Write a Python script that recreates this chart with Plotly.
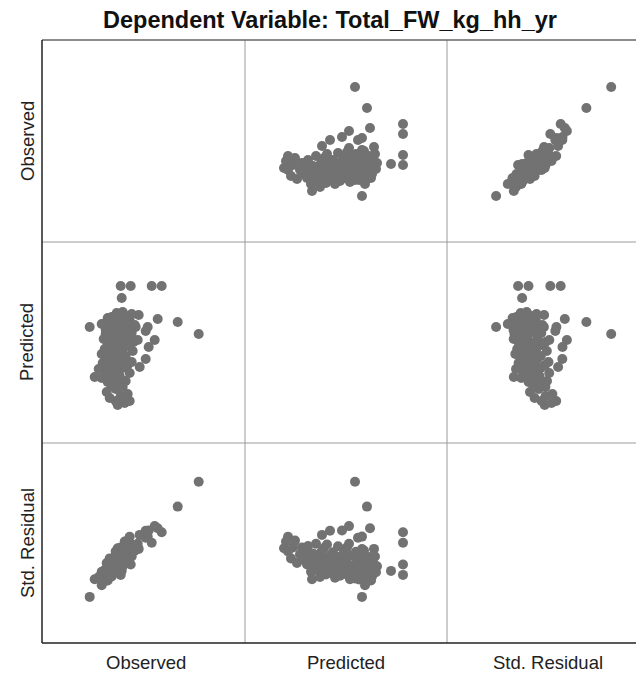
import plotly.graph_objects as go

# Values (arbitrary units, no tick labels in the original)
observed = [155, 134, 118, 108, 114, 111, 105, 104, 102, 102, 96, 86, 94, 95, 92, 87, 77, 78, 46, 62, 64, 74, 74,
            81, 72, 66, 77, 84, 63, 72, 79, 68, 75,
            64, 82, 70, 58, 51, 76, 66, 86, 61, 72, 55, 79, 68, 63, 84,
            74, 59, 88, 67, 78, 62, 71, 82, 58, 76, 66, 89, 73, 61, 80, 69, 85,
            64, 77, 90, 70, 60, 83, 74, 66, 88, 79, 70, 62,
            84, 75, 67, 91, 80, 71, 63, 86, 77, 68, 82, 88, 73, 79, 58]

predicted = [110, 122, 158, 158, 125, 104, 97, 117, 113, 85, 77, 43, 104, 129, 117, 158, 158, 146, 117, 110, 126, 129, 39,
             41, 43, 46, 48, 50, 52, 55, 57, 58, 60,
             62, 63, 65, 66, 67, 68, 70, 71, 72, 73, 75, 76, 77, 78, 79,
             80, 81, 82, 83, 85, 86, 87, 88, 90, 90, 92, 93, 94, 95, 96, 98, 99,
             100, 101, 102, 104, 105, 106, 108, 109, 111, 112, 113, 114,
             116, 117, 118, 119, 120, 121, 122, 124, 125, 127, 128, 130, 131, 132, 120]

std_residual = [164.2, 139.4, 113.7, 103.3, 117.8, 119.9, 115.5, 109.4, 108.3, 115.3, 111.1, 109.2, 102.3, 97.1, 96.9,
                81.5, 71.1, 75.1, 49.1, 67.5, 65.6, 75.2, 97.7,
                104.5, 94.6, 87.6, 98.6, 105.4, 83.0, 91.6, 98.4, 86.7, 93.5,
                81.6, 100.0, 87.1, 74.3, 66.8, 92.5, 81.6, 102.2, 75.9, 87.1, 69.0, 93.7, 82.0, 76.5, 98.1,
                87.5, 71.6, 101.5, 79.4, 90.4, 73.5, 82.6, 93.8, 68.3, 87.0, 76.1, 99.8, 82.9, 70.2, 89.7, 77.8, 94.2,
                72.1, 85.3, 98.6, 77.3, 66.7, 90.3, 80.5, 71.9, 94.3, 84.7, 75.1, 66.5,
                88.9, 79.3, 70.7, 95.4, 83.7, 74.1, 65.5, 88.9, 79.3, 69.5, 83.8, 89.5, 73.7, 79.7, 60.8]

variables = ["Observed", "Predicted", "Std. Residual"]
title_text = "Dependent Variable: Total_FW_kg_hh_yr"

data = [observed, predicted, std_residual]

# The page body has an 8 px margin; the figure is placed so the grid lands on the reference's pixels.
OFF = 8
W, H = 644 - 2 * OFF, 677 - OFF
LEFT, RIGHT, TOP, BOTTOM = 42, 644 - OFF, 40, 643  # page pixel positions of the grid
ML, MT = LEFT - OFF, TOP - OFF
MR = (W + OFF) - RIGHT
MB = (H + OFF) - BOTTOM
PW, PH = W - ML - MR, H - MT - MB

col_px = [(42, 245), (245, 447), (447, RIGHT)]
row_px = [(40, 242), (242, 443), (443, 643)]
x_ranges = [[-1.7, 201.3], [0, 202], [0, RIGHT - 447]]
y_ranges = [[0, 202], [1, 202], [3, 203]]


def px_x(x):
    return (x - LEFT) / PW


def px_y(y):
    return (BOTTOM - y) / PH


fig = go.Figure()
layout_axes = {}
for i in range(3):
    for j in range(3):
        k = i * 3 + j + 1
        sfx = "" if k == 1 else str(k)
        layout_axes["xaxis" + sfx] = dict(
            domain=[px_x(col_px[j][0]), px_x(col_px[j][1])], range=x_ranges[j],
            anchor="y" + sfx, visible=False, fixedrange=True)
        layout_axes["yaxis" + sfx] = dict(
            domain=[px_y(row_px[i][1]), px_y(row_px[i][0])], range=y_ranges[i],
            anchor="x" + sfx, visible=False, fixedrange=True)
        if i != j:
            fig.add_trace(go.Scatter(
                x=data[j], y=data[i], mode="markers",
                xaxis="x" + sfx, yaxis="y" + sfx, cliponaxis=False,
                marker=dict(size=10, color="rgb(114,114,114)", line=dict(width=0)),
                showlegend=False, hoverinfo="skip"))

shapes = []
inner = dict(color="#9a9a9a", width=1)
for xp in (245, 447):
    shapes.append(dict(type="line", xref="paper", yref="paper",
                       x0=px_x(xp), x1=px_x(xp), y0=px_y(643), y1=px_y(40), line=inner))
for yp in (242, 443):
    shapes.append(dict(type="line", xref="paper", yref="paper",
                       x0=px_x(42), x1=px_x(RIGHT), y0=px_y(yp), y1=px_y(yp), line=inner))
shapes.append(dict(type="line", xref="paper", yref="paper",
                   x0=px_x(42), x1=px_x(RIGHT), y0=px_y(40), y1=px_y(40),
                   line=dict(color="#666666", width=1.5)))
shapes.append(dict(type="line", xref="paper", yref="paper",
                   x0=px_x(42), x1=px_x(42), y0=px_y(643), y1=px_y(40),
                   line=dict(color="#222222", width=1.5)))
shapes.append(dict(type="line", xref="paper", yref="paper",
                   x0=px_x(42), x1=px_x(RIGHT), y0=px_y(643), y1=px_y(643),
                   line=dict(color="#222222", width=1.5)))

font_lab = dict(family="Liberation Sans, Arial, sans-serif", size=18.5, color="#222222")
annotations = [dict(text="<b>" + title_text + "</b>", xref="paper", yref="paper",
                    x=px_x(330), y=px_y(20), xanchor="center", yanchor="middle",
                    showarrow=False,
                    font=dict(family="Liberation Sans, Arial, sans-serif", size=23.5, color="#111111"))]
x_centers = [146, 346, 548]
y_centers = [141, 342, 543]
for n, name in enumerate(variables):
    annotations.append(dict(text=name, xref="paper", yref="paper",
                            x=px_x(x_centers[n]), y=px_y(662), xanchor="center", yanchor="middle",
                            showarrow=False, font=font_lab))
    annotations.append(dict(text=name, xref="paper", yref="paper",
                            x=px_x(27), y=px_y(y_centers[n]), xanchor="center", yanchor="middle",
                            textangle=-90, showarrow=False, font=font_lab))

fig.update_layout(width=W, height=H, margin=dict(l=ML, r=MR, t=MT, b=MB),
                  paper_bgcolor="white", plot_bgcolor="white",
                  shapes=shapes, annotations=annotations, **layout_axes)

fig.write_html("out.html")
